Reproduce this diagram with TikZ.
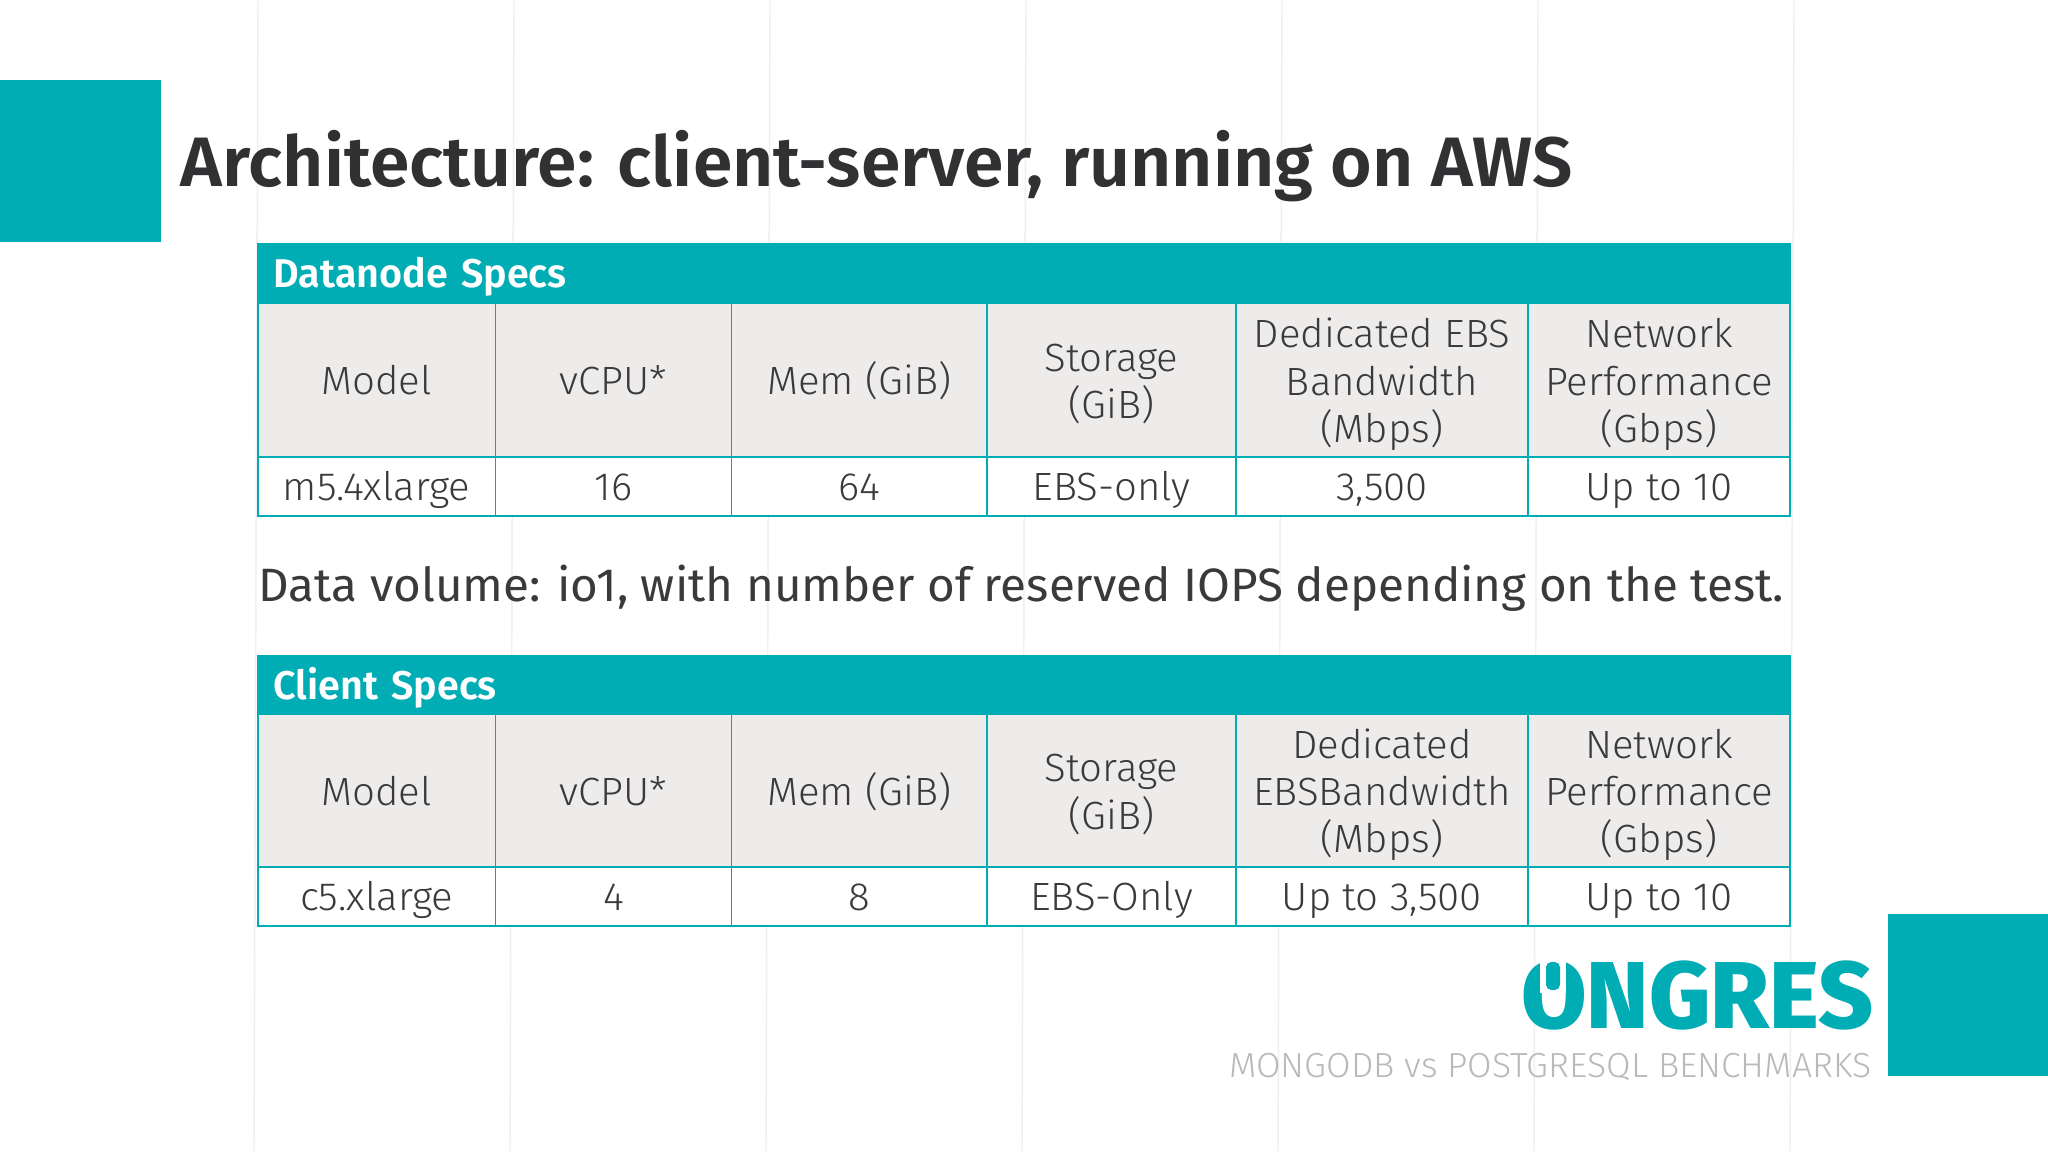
\documentclass[tikz,border=0pt]{standalone}
\usepackage{fontspec}
\setmainfont{Fira Sans Light}[FakeStretch=1.02]
\newfontfamily\titlefont{Fira Sans SemiBold}[FakeStretch=1.02]
\newfontfamily\bodyfont{Fira Sans}[FakeStretch=1.017]
\newfontfamily\capfont{Fira Sans SemiBold}[FakeStretch=0.985]
\newfontfamily\logofont{Fira Sans ExtraBold}[FakeStretch=1.0]
\usepackage{xcolor}
\definecolor{tealbar}{HTML}{00ADB5}
\definecolor{cellgray}{HTML}{EDECEA}
\definecolor{inktext}{HTML}{3A3A3C}
\definecolor{gridgray}{HTML}{EFEFF0}

\begin{document}
\begin{tikzpicture}[x=0.01cm,y=-0.01cm]
    \tikzstyle{block} = [fill=tealbar,inner sep=0pt]
    \tikzstyle{bar} = [block,draw=tealbar,line width=0.5pt,minimum width=15.32cm,minimum height=0.59cm,
          text width=15cm,align=left,text=white,text height=9.7pt,text depth=1.2pt,
          font=\capfont\fontsize{11.4}{13}\selectfont]
    \tikzstyle{cell} = [draw=tealbar,line width=0.5pt,inner sep=0pt,align=center,text=inktext,
          font=\fontsize{11.2}{13.4}\selectfont]
    \tikzstyle{headA} = [cell,fill=cellgray,minimum height=1.54cm]
    \tikzstyle{headB} = [cell,fill=cellgray,minimum height=1.525cm]
    \tikzstyle{rowcell} = [cell,fill=white,minimum height=0.59cm,text height=9.5pt,text depth=1.6pt]
    \tikzstyle{gridline} = [draw=gridgray,line width=0.4pt]
    \tikzstyle{onefull} = [text height=11pt,text depth=2.6pt]
    \tikzstyle{twofull} = [text height=24.4pt,text depth=2.6pt]
    \tikzstyle{threefull} = [text height=38pt,text depth=2.6pt]

    \useasboundingbox (0,0) rectangle (2048,1152);
    \fill[fill=white] (0,0) rectangle (2048,1152);

    % faint lines behind everything
    \draw[gridline] (258,0) -- (254,1152);
    \draw[gridline] (514,0) -- (510,1152);
    \draw[gridline] (770,0) -- (766,1152);
    \draw[gridline] (1026,0) -- (1022,1152);
    \draw[gridline] (1282,0) -- (1278,1152);
    \draw[gridline] (1538,0) -- (1534,1152);
    \draw[gridline] (1794,0) -- (1790,1152);

    \node[block,minimum width=1.61cm,minimum height=1.62cm] (cornerA) at (80.5,161) {};
    \node[block,minimum width=1.6cm,minimum height=1.62cm] (cornerB) at (1968,995) {};

    \node[anchor=base west,inner sep=0pt,text=inktext!85!black,font=\titlefont\fontsize{19.9}{24}\selectfont]
        (title) at (180,187) {Architecture: client-server, running on AWS};

    % first table
    \node[bar] (dnbar) at (1024,273) {Datanode Specs};

    \node[headA,onefull,minimum width=2.375cm] (dn1) at (376.75,380) {Model};
    \node[headA,onefull,minimum width=2.36cm] (dn2) at (613.5,380) {vCPU*};
    \node[headA,onefull,minimum width=2.555cm] (dn3) at (859.25,380) {Mem (GiB)};
    \node[headA,twofull,minimum width=2.49cm] (dn4) at (1111.5,380) {Storage\\(GiB)};
    \node[headA,threefull,minimum width=2.92cm] (dn5) at (1382,380) {Dedicated EBS\\Bandwidth\\(Mbps)};
    \node[headA,threefull,minimum width=2.62cm] (dn6) at (1659,380) {Network\\Performance\\(Gbps)};

    \node[rowcell,minimum width=2.375cm] (dv1) at (376.75,486.5) {m5.4xlarge};
    \node[rowcell,minimum width=2.36cm] (dv2) at (613.5,486.5) {16};
    \node[rowcell,minimum width=2.555cm] (dv3) at (859.25,486.5) {64};
    \node[rowcell,minimum width=2.49cm] (dv4) at (1111.5,486.5) {EBS-only};
    \node[rowcell,minimum width=2.92cm] (dv5) at (1382,486.5) {3,500};
    \node[rowcell,minimum width=2.62cm] (dv6) at (1659,486.5) {Up to 10};

    \node[anchor=base west,inner sep=0pt,text=inktext,font=\bodyfont\fontsize{13.3}{16}\selectfont]
        (volume) at (258,602) {Data volume: io1, with number of reserved IOPS depending on the test.};

    % second table
    \node[bar] (clbar) at (1024,685) {Client Specs};

    \node[headB,onefull,minimum width=2.375cm] (cl1) at (376.75,790.75) {Model};
    \node[headB,onefull,minimum width=2.36cm] (cl2) at (613.5,790.75) {vCPU*};
    \node[headB,onefull,minimum width=2.555cm] (cl3) at (859.25,790.75) {Mem (GiB)};
    \node[headB,twofull,minimum width=2.49cm] (cl4) at (1111.5,790.75) {Storage\\(GiB)};
    \node[headB,threefull,minimum width=2.92cm] (cl5) at (1382,790.75) {Dedicated\\EBSBandwidth\\(Mbps)};
    \node[headB,threefull,minimum width=2.62cm] (cl6) at (1659,790.75) {Network\\Performance\\(Gbps)};

    \node[rowcell,minimum width=2.375cm] (cv1) at (376.75,896.5) {c5.xlarge};
    \node[rowcell,minimum width=2.36cm] (cv2) at (613.5,896.5) {4};
    \node[rowcell,minimum width=2.555cm] (cv3) at (859.25,896.5) {8};
    \node[rowcell,minimum width=2.49cm] (cv4) at (1111.5,896.5) {EBS-Only};
    \node[rowcell,minimum width=2.92cm] (cv5) at (1382,896.5) {Up to 3,500};
    \node[rowcell,minimum width=2.62cm] (cv6) at (1659,896.5) {Up to 10};

    % logo
    \node[anchor=base east,inner sep=0pt,text=tealbar,font=\logofont\fontsize{27}{30}\selectfont]
        (logo) at (1874,1028) {ONGRES};
    \node[fill=white,inner sep=0pt,minimum width=0.26cm,minimum height=0.36cm] (notch) at (1553,975) {};
    \node[block,rounded corners=1.5pt,minimum width=0.14cm,minimum height=0.28cm] (stem) at (1553,976) {};
    \node[anchor=base east,inner sep=0pt,text=gray!55,font=\fontsize{9.9}{12}\selectfont]
        (tagline) at (1872,1077) {MONGODB vs POSTGRESQL BENCHMARKS};
\end{tikzpicture}
\end{document}
